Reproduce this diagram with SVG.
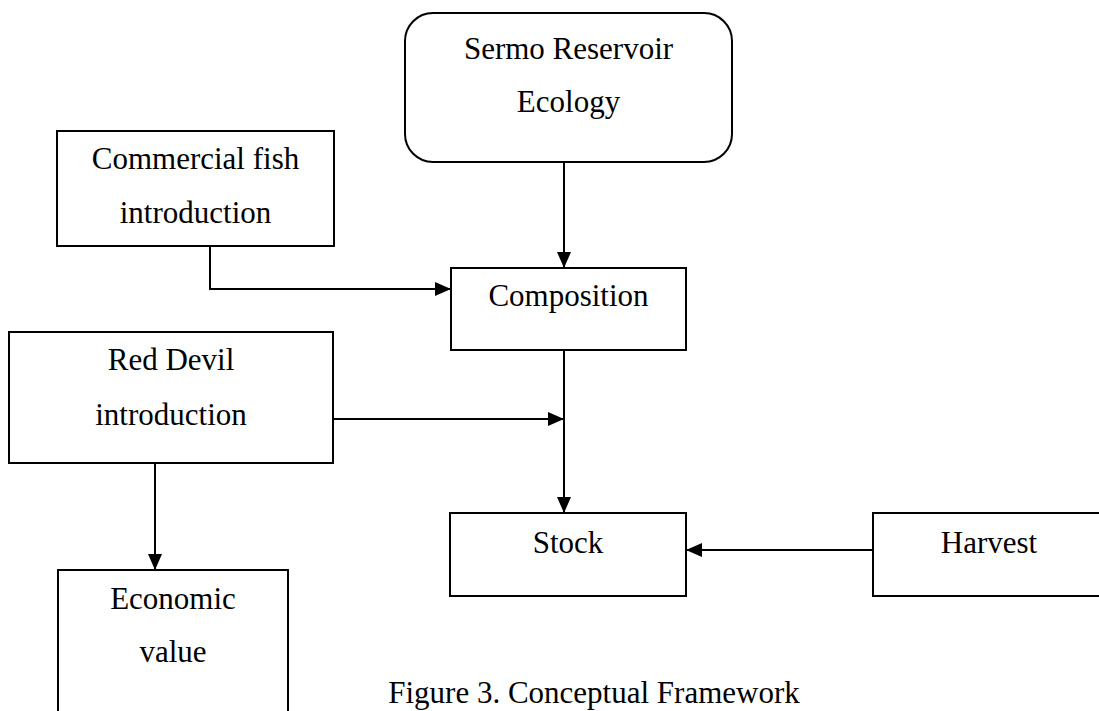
<svg xmlns="http://www.w3.org/2000/svg" width="1099" height="711" viewBox="0 0 1099 711">
  <style>
    .box { fill: #ffffff; stroke: #000000; stroke-width: 2; }
    .lbl { font-family: "Liberation Serif", "Times New Roman", serif; font-size: 31px; fill: #000000; text-anchor: middle; }
    .conn { fill: none; stroke: #000000; stroke-width: 2; marker-end: url(#arrow); }
  </style>
  <defs>
    <marker id="arrow" markerUnits="userSpaceOnUse" markerWidth="16" markerHeight="16" viewBox="0 0 16 16" refX="16" refY="8" orient="auto">
      <path d="M0,1 L16,8 L0,15 Z" fill="#000000"/>
    </marker>
  </defs>
  <rect width="1099" height="711" fill="#ffffff"/>

  <g id="connectors">
    <path class="conn" d="M564,162 L564,268"/>
    <path class="conn" d="M210,246 L210,289 L451,289"/>
    <path class="conn" d="M564,350 L564,513"/>
    <path class="conn" d="M333,419 L564,419"/>
    <path class="conn" d="M873,550 L686,550"/>
    <path class="conn" d="M155,463 L155,570"/>
  </g>

  <g id="node-sermo">
    <rect class="box" x="405" y="13" width="327" height="149" rx="28" ry="28"/>
    <text class="lbl" x="568.5" y="59">Sermo Reservoir</text>
    <text class="lbl" x="568.5" y="112">Ecology</text>
  </g>

  <g id="node-commercial">
    <rect class="box" x="57" y="131" width="277" height="115"/>
    <text class="lbl" x="195.5" y="169">Commercial fish</text>
    <text class="lbl" x="195.5" y="223">introduction</text>
  </g>

  <g id="node-composition">
    <rect class="box" x="451" y="268" width="235" height="82"/>
    <text class="lbl" x="568.5" y="306">Composition</text>
  </g>

  <g id="node-reddevil">
    <rect class="box" x="9" y="332" width="324" height="131"/>
    <text class="lbl" x="171" y="370">Red Devil</text>
    <text class="lbl" x="171" y="425">introduction</text>
  </g>

  <g id="node-stock">
    <rect class="box" x="450" y="513" width="236" height="83"/>
    <text class="lbl" x="568" y="553">Stock</text>
  </g>

  <g id="node-harvest">
    <rect class="box" x="873" y="513" width="232" height="83"/>
    <text class="lbl" x="989" y="553">Harvest</text>
  </g>

  <g id="node-economic">
    <rect class="box" x="58" y="570" width="230" height="150"/>
    <text class="lbl" x="173" y="609">Economic</text>
    <text class="lbl" x="173" y="662">value</text>
  </g>

  <g id="caption">
    <text class="lbl" x="594" y="703">Figure 3. Conceptual Framework</text>
  </g>
</svg>
